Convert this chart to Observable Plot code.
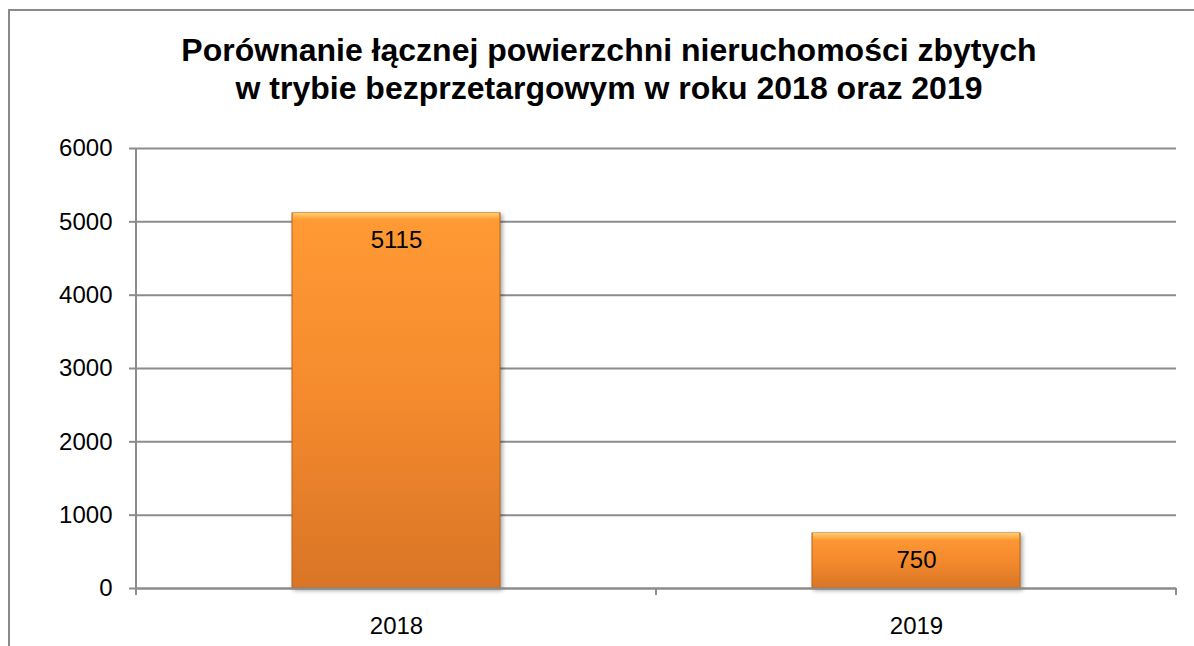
<!DOCTYPE html>
<html>
<head>
<meta charset="utf-8">
<script src="https://cdn.jsdelivr.net/npm/d3@7"></script>
<script src="https://cdn.jsdelivr.net/npm/@observablehq/plot@0.6"></script>
<style>
  html, body { margin: 0; padding: 0; background: #fff; }
  #wrap { position: relative; width: 1194px; height: 646px; overflow: hidden; background: #fff; }
  #border { position: absolute; left: 8px; top: 9px; width: 1200px; height: 700px;
            border-left: 2.5px solid #8a8a8a; border-top: 2.5px solid #8a8a8a; }
  #title { position: absolute; left: 0; top: 31px; width: 1218px; text-align: center;
           font-family: "Liberation Sans", Arial, sans-serif; font-weight: bold;
           font-size: 32px; line-height: 38px; color: #000; }
  #chart { position: absolute; left: 0; top: 0; }
  #chart g[aria-label="bar"].main rect { filter: drop-shadow(2px 2px 2px rgba(0,0,0,0.35)); }
</style>
</head>
<body>
<div id="wrap">
  <div id="border"></div>
  <div id="chart"></div>
  <div id="title">Porównanie łącznej powierzchni nieruchomości zbytych<br>w trybie bezprzetargowym w roku 2018 oraz 2019</div>
</div>
<script>
const years = ["2018", "2019"];
const areas = [5115, 750];
const yTicks = [0, 1000, 2000, 3000, 4000, 5000, 6000];

const data = years.map((y, i) => ({year: y, value: areas[i]}));

const gridColor = "#8c8c8c";

function boundaryMark(index, scales, values, dimensions) {
  const x = scales.x;
  const bw = typeof x.bandwidth === "function" ? x.bandwidth() : x.bandwidth;
  const {marginLeft, marginRight, marginTop, marginBottom, width, height} = dimensions;
  const y0 = height - marginBottom;
  const xs = [marginLeft];
  for (let i = 0; i < years.length - 1; i++) {
    xs.push((x(years[i]) + bw + x(years[i + 1])) / 2);
  }
  xs.push(width - marginRight);
  const g = d3.create("svg:g").attr("stroke", gridColor).attr("stroke-width", 2);
  g.append("line").attr("x1", marginLeft).attr("x2", marginLeft).attr("y1", marginTop).attr("y2", y0 + 7);
  xs.forEach(v => g.append("line").attr("x1", v).attr("x2", v).attr("y1", y0).attr("y2", y0 + 7));
  return g.node();
}

const plot = Plot.plot({
  width: 1194,
  height: 646,
  marginLeft: 136,
  marginRight: 18,
  marginTop: 148,
  marginBottom: 58,
  style: {fontFamily: "'Liberation Sans', Arial, sans-serif", fontSize: "24px", color: "#000", background: "transparent", overflow: "visible"},
  x: {domain: years, paddingInner: 0.6, paddingOuter: 0.3, label: null},
  y: {domain: [0, 6000], label: null},
  marks: [
    Plot.gridY(yTicks, {stroke: gridColor, strokeOpacity: 1, strokeWidth: 2}),
    Plot.axisY(yTicks, {tickSize: 7, tickPadding: 17, stroke: gridColor, strokeWidth: 2, fontSize: 24, fill: "#000", label: null, tickFormat: d => String(d)}),
    Plot.axisX({tickSize: 0, tickPadding: 28, fontSize: 24, fill: "#000", label: null}),
    boundaryMark,
    Plot.barY(data, {x: "year", y: "value", fill: "url(#barGrad)", stroke: "#b8661e", strokeWidth: 1, className: "main"}),
    Plot.barY(data, {x: "year", y1: "value", y2: "value", insetBottom: -7, insetLeft: 1, insetRight: 1, fill: "url(#topGrad)"}),
    Plot.ruleY([0], {stroke: gridColor, strokeWidth: 2}),
    Plot.text(data, {x: "year", y: "value", text: d => String(d.value), dy: 27, fontSize: 24, fill: "#000"})
  ]
});

plot.insertAdjacentHTML("afterbegin", `<defs>
  <linearGradient id="barGrad" x1="0" y1="0" x2="0" y2="1">
    <stop offset="0%" stop-color="#ff9a34"/>
    <stop offset="50%" stop-color="#f48a2d"/>
    <stop offset="100%" stop-color="#d97526"/>
  </linearGradient>
  <linearGradient id="topGrad" x1="0" y1="0" x2="0" y2="1">
    <stop offset="0%" stop-color="#ffcf6a"/>
    <stop offset="100%" stop-color="#ff9a34"/>
  </linearGradient>
</defs>`);

document.getElementById("chart").appendChild(plot);
</script>
</body>
</html>
